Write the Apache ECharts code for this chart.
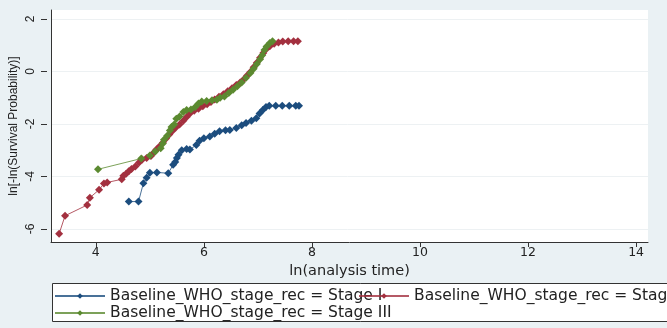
<!DOCTYPE html>
<html>
<head>
<meta charset="utf-8">
<script src="https://cdn.jsdelivr.net/npm/echarts@6/dist/echarts.min.js"></script>
<style>
html,body{margin:0;padding:0;background:#eaf1f4;}
#c{width:667px;height:328px;}
</style>
</head>
<body>
<div id="c"></div>
<script>
// ---- data ----
const seriesNames = [
  'Baseline_WHO_stage_rec = Stage I',
  'Baseline_WHO_stage_rec = Stage II',
  'Baseline_WHO_stage_rec = Stage III'
];
const xTicks = [4, 6, 8, 10, 12, 14];
const yTickMin = -6, yTickMax = 2, yTickStep = 2;

const stage1X = [4.61,4.79,4.88,4.94,5.00,5.13,5.34,5.43,5.47,5.50,5.53,5.59,5.68,5.74,5.86,5.92,6.00,6.11,6.20,6.29,6.40,6.48,6.60,6.70,6.78,6.88,6.97,7.03,7.09,7.15,7.21,7.33,7.45,7.58,7.70,7.76];
const stage1Y = [-4.96,-4.96,-4.26,-4.05,-3.86,-3.85,-3.88,-3.56,-3.45,-3.30,-3.18,-3.00,-2.96,-2.98,-2.80,-2.64,-2.55,-2.48,-2.38,-2.28,-2.24,-2.23,-2.16,-2.05,-1.97,-1.88,-1.78,-1.60,-1.47,-1.36,-1.31,-1.31,-1.31,-1.31,-1.31,-1.31];

const stage2X = [3.32,3.43,3.84,3.89,4.06,4.15,4.21,4.48,4.51,4.56,4.61,4.66,4.73,4.80,4.86,4.94,5.02,5.07,5.12,5.18,5.24,5.30,5.36,5.42,5.48,5.55,5.62,5.68,5.74,5.82,5.90,5.98,6.06,6.13,6.20,6.28,6.36,6.44,6.52,6.60,6.67,6.74,6.80,6.86,6.92,6.98,7.04,7.10,7.16,7.22,7.30,7.38,7.46,7.56,7.66,7.74];
const stage2Y = [-6.19,-5.50,-5.09,-4.81,-4.51,-4.27,-4.23,-4.11,-3.98,-3.90,-3.80,-3.72,-3.62,-3.47,-3.36,-3.30,-3.22,-3.10,-2.98,-2.85,-2.72,-2.56,-2.40,-2.26,-2.14,-2.02,-1.88,-1.74,-1.60,-1.50,-1.42,-1.33,-1.25,-1.17,-1.07,-0.97,-0.87,-0.76,-0.64,-0.52,-0.42,-0.30,-0.16,-0.02,0.16,0.33,0.52,0.70,0.86,0.96,1.05,1.10,1.14,1.15,1.15,1.15];

const stage3X = [4.04,4.84,5.00,5.10,5.20,5.24,5.26,5.32,5.37,5.40,5.45,5.49,5.55,5.62,5.68,5.76,5.84,5.90,5.96,6.05,6.15,6.24,6.30,6.38,6.46,6.54,6.62,6.70,6.78,6.86,6.92,6.98,7.04,7.08,7.12,7.16,7.22,7.27];
const stage3Y = [-3.73,-3.32,-3.20,-3.05,-2.93,-2.75,-2.60,-2.45,-2.25,-2.12,-2.02,-1.80,-1.72,-1.55,-1.47,-1.45,-1.36,-1.22,-1.15,-1.13,-1.10,-1.08,-1.00,-0.96,-0.82,-0.70,-0.57,-0.42,-0.24,-0.06,0.10,0.28,0.46,0.62,0.82,0.95,1.08,1.15];

const colors = ['#1c4d7e', '#a3303f', '#5b8a30'];

function pairs(xs, ys){ return xs.map((x,i)=>[x, ys[i]]); }

const chart = echarts.init(document.getElementById('c'), null, {renderer:'canvas'});
const axisFont = 'DejaVu Sans';
const mkSeries = (name, xs, ys, c) => ({
  name: name, type: 'line', data: pairs(xs, ys),
  xAxisIndex: 0, yAxisIndex: 0,
  symbol: 'diamond', symbolSize: 8, showSymbol: true,
  itemStyle: {color: c},
  lineStyle: {color: c, width: 1, opacity: 0.8},
  animation: false
});

// grid 0: data plot (range -6.5 .. 2.34); grid 1: y tick scale spanning exactly -6 .. 2
const yLo = -6.5, yHi = 2.34;
const plotTop = 10, plotBottom = 86, plotH = 328 - plotTop - plotBottom;
const pxPerUnit = plotH / (yHi - yLo);
const g1Top = plotTop + (yHi - yTickMax) * pxPerUnit;
const g1Bottom = plotBottom + (yTickMin - yLo) * pxPerUnit;

chart.setOption({
  backgroundColor: '#eaf1f4',
  animation: false,
  grid: [
    {left: 47, right: 19, top: plotTop, bottom: plotBottom, show: true, backgroundColor: '#ffffff', borderWidth: 0, z: 0},
    {left: 47, right: 19, top: g1Top, bottom: g1Bottom, show: false}
  ],
  xAxis: [{
    gridIndex: 0, type: 'value', min: 3.17, max: 14.22,
    name: 'ln(analysis time)', nameLocation: 'middle', nameGap: 14,
    nameTextStyle: {fontFamily: axisFont, fontSize: 14.5, color: '#222'},
    axisLine: {show: true, onZero: false, lineStyle: {color: '#333', width: 1}},
    axisTick: {show: true, length: 5, customValues: xTicks, lineStyle: {color: '#333'}},
    axisLabel: {customValues: xTicks, fontFamily: axisFont, fontSize: 12.5, color: '#222', margin: 4},
    splitLine: {show: false}
  }, {
    gridIndex: 1, type: 'value', min: 0, max: 1, show: false
  }],
  yAxis: [{
    gridIndex: 0, type: 'value', min: yLo, max: yHi,
    name: 'ln[-ln(Survival Probability)]', nameLocation: 'middle', nameGap: 31, nameRotate: 90,
    nameTextStyle: {fontFamily: 'Liberation Sans', fontSize: 12, color: '#222'},
    axisLine: {show: true, onZero: false, lineStyle: {color: '#333', width: 1}},
    axisTick: {show: false}, axisLabel: {show: false}, splitLine: {show: false}
  }, {
    gridIndex: 1, type: 'value', min: yTickMin, max: yTickMax, interval: yTickStep,
    axisLine: {show: false},
    axisTick: {show: true, length: 6, lineStyle: {color: '#333'}},
    axisLabel: {rotate: 90, fontFamily: 'Liberation Sans', fontSize: 12, color: '#222', margin: 10},
    splitLine: {show: true, lineStyle: {color: '#edf1f3', width: 1}}
  }],
  legend: [
    {
      data: [seriesNames[0], seriesNames[2]], orient: 'vertical', left: 54, top: 288, padding: 0,
      itemWidth: 50, itemHeight: 7, itemGap: 1,
      textStyle: {fontFamily: axisFont, fontSize: 15.5, color: '#222', lineHeight: 15},
      selectedMode: false
    },
    {
      data: [seriesNames[1]], orient: 'vertical', left: 358, top: 288, padding: 0,
      itemWidth: 50, itemHeight: 7,
      textStyle: {fontFamily: axisFont, fontSize: 15.5, color: '#222', lineHeight: 15},
      selectedMode: false
    }
  ],
  graphic: [{
    type: 'rect', left: 52, top: 283, z: -1,
    shape: {width: 640, height: 38},
    style: {fill: '#ffffff', stroke: '#333', lineWidth: 1}
  }],
  series: [
    mkSeries(seriesNames[0], stage1X, stage1Y, colors[0]),
    mkSeries(seriesNames[1], stage2X, stage2Y, colors[1]),
    mkSeries(seriesNames[2], stage3X, stage3Y, colors[2])
  ]
});
</script>
</body>
</html>
